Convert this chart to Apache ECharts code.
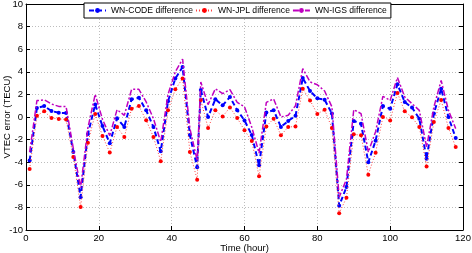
<!DOCTYPE html>
<html>
<head>
<meta charset="utf-8">
<script src="https://cdn.jsdelivr.net/npm/echarts@6/dist/echarts.min.js"></script>
<style>
html, body { margin: 0; padding: 0; background: #fff; }
#main { width: 472px; height: 253px; }
</style>
</head>
<body>
<div id="main"></div>
<script>
// time stamps (hour) of the samples
var hours = [1, 3, 5, 7, 9, 11, 13, 15, 17, 19, 21, 23, 25, 27, 29, 31, 33, 35, 37, 39, 41, 43, 45, 47,
	48, 50, 52, 54, 56, 58, 60, 62, 64, 66, 68, 70, 72, 74, 76, 78, 80, 82, 84, 86, 88, 90, 92, 94, 96, 98,
	100, 102, 104, 106, 108, 110, 112, 114, 116, 118];

var codeDiff = [-3.85, 0.8, 0.97, 0.53, 0.37, 0.35, -3.1, -7.1, -1.5, 1.1, -0.8, -2.33, -0.12, -0.88, 1.57, 1.71, 0.59, -0.88, -3.04, 1.4, 3.4, 4.42, -1.6, -4.45,
	2.4, 0.0, 1.57, 1.03, 1.77, 0.6, -0.3, -1.6, -4.28, 0.4, 0.6, -0.88, -0.35, 0.1, 3.45, 2.3, 1.65, 1.53, 0.3, -7.85, -6.2, -0.35, -0.6, -4.0, -2.1, 0.97,
	0.74, 2.9, 1.33, 0.83, -0.15, -3.69, 0.3, 2.5, 0.0, -1.86];

var jplDiff = [-4.6, 0.12, 0.5, -0.08, -0.17, -0.22, -3.55, -7.96, -2.27, 0.27, -1.68, -3.15, -0.88, -1.77, 0.74, 0.97, -0.29, -1.77, -3.92, 0.59, 2.45, 3.4, -3.1, -5.55,
	1.5, -0.97, 0.59, 0.04, 0.85, -0.09, -1.18, -2.12, -5.25, -0.83, -0.15, -1.62, -0.88, -0.85, 2.5, 1.47, 0.27, 0.65, -0.97, -8.52, -7.14, -1.53, -1.62, -5.1, -3.16, 0.0,
	-0.3, 2.12, 0.5, -0.03, -0.88, -4.37, -0.44, 1.5, -0.97, -2.65];

var igsDiff = [-3.1, 1.45, 1.52, 1.15, 0.94, 0.92, -2.8, -6.25, -0.95, 2.0, -0.2, -1.65, 0.65, 0.15, 2.45, 2.45, 1.33, -0.15, -2.2, 2.0, 4.0, 5.12, -1.0, -3.85,
	3.1, 1.1, 2.5, 2.07, 2.42, 1.3, 0.9, -0.9, -3.2, 1.3, 1.6, 0.0, 0.15, 1.0, 4.28, 3.1, 2.85, 2.3, 0.9, -7.1, -5.5, 0.65, 0.3, -3.1, -1.3, 1.83,
	1.47, 3.5, 1.77, 1.18, 0.59, -2.65, 0.88, 3.24, 0.59, -1.03];

var seriesNames = ['WN-CODE difference', 'WN-JPL difference', 'WN-IGS difference'];
var xTicks = [0, 20, 40, 60, 80, 100, 120];
var yTicks = [-10, -8, -6, -4, -2, 0, 2, 4, 6, 8, 10];

var FONT = 'Liberation Sans, Arial, sans-serif';

function pairs(vals) {
	var out = [];
	for (var i = 0; i < hours.length; i++) {
		out.push([hours[i], vals[i]]);
	}
	return out;
}

// extra axes on top / right just to close the box with inner ticks
function boxAxis(pos, isX) {
	var ticks = isX ? xTicks : yTicks;
	return {
		type: 'value',
		position: pos,
		min: ticks[0],
		max: ticks[ticks.length - 1],
		interval: isX ? 20 : 2,
		axisLine: { show: true, onZero: false, lineStyle: { color: '#000', width: 1 } },
		axisTick: { show: true, inside: true, length: 4, lineStyle: { color: '#000' } },
		axisLabel: { show: false },
		splitLine: { show: false }
	};
}

var myChart = echarts.init(document.getElementById('main'), null, { renderer: 'canvas' });

var option = {
	animation: false,
	backgroundColor: '#fff',
	textStyle: { fontFamily: FONT },
	grid: { left: 26, right: 9, top: 4, bottom: 23, containLabel: false, outerBoundsMode: 'none' },
	legend: {
		data: seriesNames,
		left: 84,
		top: 3,
		padding: [3, 4],
		itemGap: 2,
		itemWidth: 17,
		itemHeight: 6,
		borderColor: '#000',
		borderWidth: 1,
		borderRadius: 0,
		backgroundColor: '#fff',
		textStyle: { fontFamily: FONT, fontSize: 8.6, color: '#000' }
	},
	xAxis: [
		{
			type: 'value',
			position: 'bottom',
			min: 0, max: 120, interval: 20,
			name: 'Time (hour)',
			nameLocation: 'middle',
			nameGap: 13,
			nameMoveOverlap: false,
			nameTextStyle: { fontFamily: FONT, fontSize: 9.5, color: '#000' },
			axisLine: { show: true, onZero: false, lineStyle: { color: '#000', width: 1 } },
			axisTick: { show: true, inside: true, length: 4, lineStyle: { color: '#000' } },
			axisLabel: { fontFamily: FONT, fontSize: 9.5, color: '#000', margin: 3 },
			splitLine: { show: true, lineStyle: { color: '#bdbdbd', type: [1, 2], width: 1 } }
		},
		boxAxis('top', true)
	],
	yAxis: [
		{
			type: 'value',
			position: 'left',
			min: -10, max: 10, interval: 2,
			name: 'VTEC error (TECU)',
			nameLocation: 'middle',
			nameGap: 14,
			nameRotate: 90,
			nameMoveOverlap: false,
			nameTextStyle: { fontFamily: FONT, fontSize: 9.5, color: '#000' },
			axisLine: { show: true, onZero: false, lineStyle: { color: '#000', width: 1 } },
			axisTick: { show: true, inside: true, length: 4, lineStyle: { color: '#000' } },
			axisLabel: { fontFamily: FONT, fontSize: 9.5, color: '#000', margin: 3 },
			splitLine: { show: true, lineStyle: { color: '#bdbdbd', type: [1, 2], width: 1 } }
		},
		boxAxis('right', false)
	],
	series: [
		{
			name: seriesNames[0],
			type: 'line',
			data: pairs(codeDiff),
			symbol: 'circle',
			symbolSize: 4,
			itemStyle: { color: '#0000ff' },
			lineStyle: { color: '#0000ff', width: 2, type: [5, 3] },
			z: 3
		},
		{
			name: seriesNames[1],
			type: 'line',
			data: pairs(jplDiff),
			symbol: 'circle',
			symbolSize: 4,
			itemStyle: { color: '#ff0000' },
			lineStyle: { color: '#ff4040', width: 1, type: [1, 2] },
			z: 4
		},
		{
			name: seriesNames[2],
			type: 'line',
			data: pairs(igsDiff),
			symbol: 'none',
			itemStyle: { color: '#bf00bf' },
			lineStyle: { color: '#bf00bf', width: 1.5, type: [6, 2, 2, 2] },
			z: 5
		}
	]
};

myChart.setOption(option, true);
</script>
</body>
</html>
